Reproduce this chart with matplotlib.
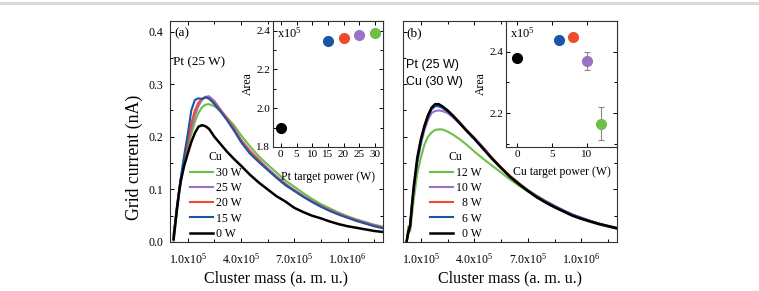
import matplotlib
matplotlib.use("Agg")
import matplotlib.pyplot as plt
from matplotlib.patches import Rectangle
from matplotlib.ticker import MultipleLocator, FixedLocator, FormatStrFormatter, NullFormatter

plt.rcParams['font.family'] = ['Liberation Serif', 'DejaVu Serif']
plt.rcParams['mathtext.fontset'] = 'custom'
plt.rcParams['mathtext.rm'] = 'Liberation Serif'
plt.rcParams['mathtext.default'] = 'regular'

# ---------------- data ----------------
mass = [0.2e5, 0.3e5, 0.4e5, 0.5e5, 0.6e5, 0.8e5, 1.0e5, 1.2e5, 1.4e5, 1.6e5, 1.8e5,
        2.0e5, 2.2e5, 2.5e5, 2.8e5, 3.2e5, 3.6e5, 4.0e5, 4.5e5, 5.0e5, 5.5e5, 6.0e5,
        6.5e5, 7.0e5, 7.5e5, 8.0e5, 8.5e5, 9.0e5, 9.5e5, 10.0e5, 10.5e5, 11.0e5,
        11.5e5, 12.0e5]

a_labels = ["30 W", "25 W", "20 W", "15 W", "0 W"]
a_30 = [0.0, 0.03, 0.06, 0.088, 0.112, 0.15, 0.18, 0.205, 0.228, 0.245, 0.256, 0.261,
        0.262, 0.258, 0.250, 0.237, 0.222, 0.203, 0.182, 0.163, 0.147, 0.132, 0.117,
        0.105, 0.093, 0.082, 0.072, 0.064, 0.056, 0.049, 0.043, 0.038, 0.033, 0.029]
a_25 = [0.005, 0.035, 0.065, 0.09, 0.115, 0.155, 0.185, 0.215, 0.240, 0.258, 0.270,
        0.276, 0.277, 0.268, 0.254, 0.236, 0.217, 0.195, 0.174, 0.157, 0.140, 0.125,
        0.111, 0.099, 0.088, 0.078, 0.069, 0.061, 0.054, 0.048, 0.042, 0.037, 0.032, 0.028]
a_20 = [0.015, 0.04, 0.068, 0.093, 0.118, 0.16, 0.19, 0.225, 0.250, 0.265, 0.272, 0.275,
        0.272, 0.265, 0.252, 0.235, 0.215, 0.193, 0.172, 0.155, 0.138, 0.123, 0.110,
        0.098, 0.087, 0.077, 0.068, 0.060, 0.053, 0.047, 0.041, 0.036, 0.031, 0.027]
a_15 = [0.01, 0.04, 0.07, 0.095, 0.12, 0.165, 0.205, 0.250, 0.270, 0.273, 0.272, 0.275,
        0.273, 0.262, 0.250, 0.232, 0.212, 0.190, 0.168, 0.152, 0.137, 0.122, 0.108,
        0.097, 0.086, 0.076, 0.067, 0.059, 0.052, 0.046, 0.040, 0.035, 0.030, 0.026]
a_0 = [0.005, 0.035, 0.065, 0.092, 0.115, 0.145, 0.168, 0.190, 0.207, 0.219, 0.222,
       0.220, 0.215, 0.200, 0.188, 0.172, 0.158, 0.145, 0.128, 0.113, 0.100, 0.087,
       0.077, 0.065, 0.057, 0.050, 0.045, 0.039, 0.034, 0.030, 0.027, 0.024, 0.021, 0.019]

b_labels = ["12 W", "10 W", "  8 W", "  6 W", "  0 W"]
b_12 = [0.0, 0.03, 0.02, 0.05, 0.08, 0.13, 0.16, 0.185, 0.200, 0.208, 0.213, 0.214,
        0.214, 0.210, 0.204, 0.195, 0.184, 0.172, 0.158, 0.145, 0.132, 0.119, 0.107,
        0.096, 0.085, 0.075, 0.066, 0.058, 0.050, 0.044, 0.038, 0.033, 0.029, 0.025]
b_10 = [0.0, 0.02, 0.03, 0.065, 0.095, 0.15, 0.185, 0.212, 0.232, 0.245, 0.249, 0.250,
        0.249, 0.245, 0.237, 0.224, 0.210, 0.198, 0.180, 0.160, 0.141, 0.125, 0.111,
        0.098, 0.087, 0.077, 0.068, 0.059, 0.052, 0.046, 0.040, 0.035, 0.030, 0.026]
b_8 = [0.0, 0.015, 0.03, 0.065, 0.10, 0.155, 0.192, 0.222, 0.242, 0.255, 0.259, 0.258,
       0.256, 0.250, 0.241, 0.227, 0.212, 0.198, 0.179, 0.160, 0.142, 0.126, 0.112,
       0.099, 0.088, 0.078, 0.069, 0.060, 0.052, 0.046, 0.040, 0.035, 0.030, 0.026]
b_6 = [0.0, 0.02, 0.035, 0.07, 0.10, 0.155, 0.19, 0.218, 0.238, 0.252, 0.258, 0.258,
       0.255, 0.248, 0.239, 0.226, 0.211, 0.197, 0.178, 0.158, 0.140, 0.124, 0.111,
       0.098, 0.087, 0.077, 0.068, 0.060, 0.052, 0.046, 0.040, 0.035, 0.031, 0.027]
b_0 = [0.0, 0.02, 0.03, 0.07, 0.105, 0.16, 0.195, 0.220, 0.240, 0.255, 0.262, 0.262,
       0.258, 0.250, 0.240, 0.225, 0.210, 0.196, 0.177, 0.158, 0.141, 0.124, 0.110,
       0.097, 0.085, 0.075, 0.066, 0.058, 0.050, 0.044, 0.039, 0.034, 0.030, 0.026]

# insets
pt_power = [0, 15, 20, 25, 30]
pt_area = [1.90, 2.345, 2.36, 2.38, 2.39]
cu_power = [0, 6, 8, 10, 12]
cu_area = [2.38, 2.438, 2.447, 2.37, 2.166]
cu_err = [0.0, 0.0, 0.0, 0.03, 0.053]

xtick_vals = [1e5, 4e5, 7e5, 1e6]
xtick_labels = [r"1.0x10$^5$", r"4.0x10$^5$", r"7.0x10$^5$", r"1.0x10$^6$"]

col_green = '#6cbf47'
col_purple = '#9b72c4'
col_red = '#ee4b2b'
col_blue = '#1c55a6'
col_black = '#000000'
colors = [col_green, col_purple, col_red, col_blue, col_black]

# ---------------- figure ----------------
W, H = 759, 291
fig = plt.figure(figsize=(W / 100, H / 100), dpi=100)
fig.add_artist(Rectangle((0, 1 - 5 / H), 1, 3.5 / H, transform=fig.transFigure,
                         color='#dcdad2', lw=0))


def fx(px):
    return px / W


def fy(py):
    return 1 - py / H


ax_a = fig.add_axes([fx(170), fy(242), fx(383) - fx(170), fy(21) - fy(242)])
ax_b = fig.add_axes([fx(403), fy(242), fx(617) - fx(403), fy(21) - fy(242)])


def style_main(ax):
    ax.set_xlim(0, 1.2e6)
    ax.set_ylim(0, 0.42)
    ax.set_xticks(xtick_vals)
    ax.set_xticklabels(xtick_labels)
    ax.xaxis.set_minor_locator(FixedLocator([2.5e5, 5.5e5, 8.5e5, 1.15e6]))
    ax.yaxis.set_major_locator(MultipleLocator(0.1))
    ax.yaxis.set_minor_locator(MultipleLocator(0.05))
    ax.yaxis.set_major_formatter(FormatStrFormatter('%.1f'))
    ax.tick_params(which='both', direction='in', top=True, right=True, labelsize=8.5,
                   width=0.7)
    ax.tick_params(axis='x', pad=7)
    ax.tick_params(axis='y', pad=5)
    ax.tick_params(which='major', length=3)
    ax.tick_params(which='minor', length=2)
    for s in ax.spines.values():
        s.set_linewidth(0.8)
        s.set_color('#333333')
    ax.set_xlabel("Cluster mass (a. m. u.)", fontsize=11.5, labelpad=3)


LW = 1.5
LWK = 1.8

series_a = [a_30, a_25, a_20, a_15, a_0]
for ys, c, lab in zip(series_a, colors, a_labels):
    ax_a.plot(mass, ys, color=c, lw=LW if c != col_black else LWK, label=lab)
style_main(ax_a)
ax_a.set_ylabel("Grid current (nA)", fontsize=12.8, labelpad=3)
ax_a.yaxis.set_label_coords(-0.125, 0.385)
ax_a.text(0.02, 0.945, "(a)", transform=ax_a.transAxes, fontsize=9.5, va='center')
ax_a.text(0.015, 0.815, "Pt (25 W)", transform=ax_a.transAxes, fontsize=9.5, va='center')
ax_a.legend(title="Cu", loc='upper left', bbox_to_anchor=(0.093, 0.41), frameon=False,
            fontsize=8.5, title_fontsize=8.5, handlelength=2.0, handletextpad=0.2,
            labelspacing=0.28, borderpad=0, borderaxespad=0)

series_b = [b_12, b_10, b_8, b_6, b_0]
for ys, c, lab in zip(series_b, colors, b_labels):
    ax_b.plot(mass, ys, color=c, lw=LW if c != col_black else LWK, label=lab)
style_main(ax_b)
ax_b.yaxis.set_major_formatter(NullFormatter())
ax_b.text(0.015, 0.945, "(b)", transform=ax_b.transAxes, fontsize=9.5, va='center')
ax_b.text(0.012, 0.80, "Pt (25 W)", transform=ax_b.transAxes, fontsize=9,
          va='center', family=['Liberation Sans', 'DejaVu Sans'])
ax_b.text(0.012, 0.725, "Cu (30 W)", transform=ax_b.transAxes, fontsize=9,
          va='center', family=['Liberation Sans', 'DejaVu Sans'])
ax_b.legend(title="Cu", loc='upper left', bbox_to_anchor=(0.125, 0.41), frameon=False,
            fontsize=8.5, title_fontsize=8.5, handlelength=2.0, handletextpad=0.2,
            labelspacing=0.28, borderpad=0, borderaxespad=0)

# insets
in_a = fig.add_axes([fx(273), fy(147), fx(383) - fx(273), fy(21) - fy(147)])
in_b = fig.add_axes([fx(506), fy(147), fx(617) - fx(506), fy(21) - fy(147)])


def style_inset(ax):
    ax.tick_params(which='both', direction='in', top=True, right=True, labelsize=8,
                   width=0.7, pad=2)
    ax.tick_params(which='major', length=3)
    ax.tick_params(which='minor', length=2)
    for s in ax.spines.values():
        s.set_linewidth(0.8)
        s.set_color('#333333')
    ax.set_ylabel("Area", fontsize=8.5, labelpad=2)
    ax.text(0.035, 0.9, r"x10$^5$", transform=ax.transAxes, fontsize=9, va='center')


for x, y, c in zip(pt_power, pt_area, colors[::-1]):
    in_a.plot([x], [y], 'o', color=c, ms=7)
in_a.set_xlim(-2.5, 32.6)
in_a.set_ylim(1.8, 2.45)
in_a.xaxis.set_major_locator(MultipleLocator(5))
in_a.yaxis.set_major_locator(MultipleLocator(0.2))
in_a.yaxis.set_minor_locator(MultipleLocator(0.1))
style_inset(in_a)
in_a.set_xlabel("Pt target power (W)", fontsize=8.5, labelpad=9)

for x, y, e, c in zip(cu_power, cu_area, cu_err, colors[::-1]):
    if e > 0:
        in_b.errorbar([x], [y], yerr=[e], fmt='none', ecolor='#888888', elinewidth=0.8,
                      capsize=2, capthick=0.8)
    in_b.plot([x], [y], 'o', color=c, ms=7)
in_b.set_xlim(-1.6, 14.3)
in_b.set_ylim(2.09, 2.50)
in_b.xaxis.set_major_locator(MultipleLocator(5))
in_b.yaxis.set_major_locator(MultipleLocator(0.2))
in_b.yaxis.set_minor_locator(MultipleLocator(0.1))
style_inset(in_b)
in_b.set_xlabel("Cu target power (W)", fontsize=8.5, labelpad=5)

fig.savefig("out.png", dpi=100)
